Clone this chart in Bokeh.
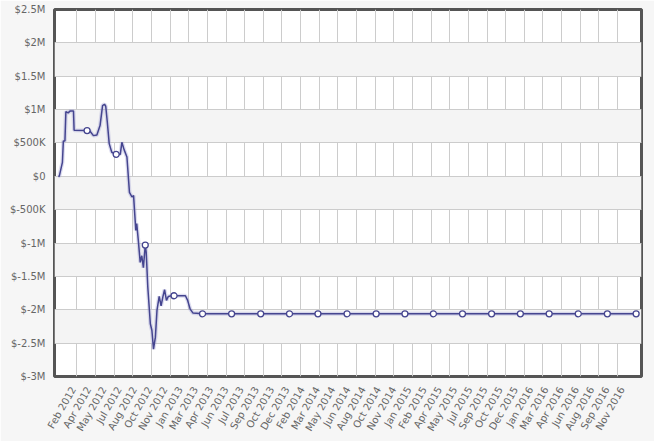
import numpy as np
import pandas as pd
from bokeh.plotting import figure
from bokeh.models import FixedTicker, Range1d
from bokeh.embed import file_html
from bokeh.resources import INLINE

# ---- data ----
line_dates = [
    "2011-12-15", "2011-12-18", "2011-12-28", "2011-12-31", "2012-01-05", "2012-01-08",
    "2012-01-15", "2012-01-22", "2012-02-01", "2012-02-03", "2012-03-15", "2012-03-22",
    "2012-04-04", "2012-04-15", "2012-04-25", "2012-05-03", "2012-05-09", "2012-05-13",
    "2012-05-18", "2012-05-24", "2012-06-01", "2012-06-15", "2012-06-28", "2012-07-03",
    "2012-07-10", "2012-07-19", "2012-07-27", "2012-08-04", "2012-08-09", "2012-08-12",
    "2012-08-16", "2012-08-19", "2012-08-24", "2012-08-30", "2012-09-04", "2012-09-09",
    "2012-09-15", "2012-09-18", "2012-09-23", "2012-10-01", "2012-10-06", "2012-10-11",
    "2012-10-17", "2012-10-22", "2012-10-29", "2012-11-04", "2012-11-10", "2012-11-15",
    "2012-11-21", "2012-11-27", "2012-12-06", "2012-12-15", "2013-01-20", "2013-01-27",
    "2013-02-04", "2013-02-13", "2013-03-15", "2013-06-15", "2013-09-15", "2013-12-15",
    "2014-03-15", "2014-06-15", "2014-09-15", "2014-12-15", "2015-03-15", "2015-06-15",
    "2015-09-15", "2015-12-15", "2016-03-15", "2016-06-15", "2016-09-15", "2016-12-15",
]
line_values = [
    0, 0, 210000, 530000, 530000, 970000,
    950000, 980000, 980000, 690000, 685000, 690000,
    610000, 620000, 760000, 1060000, 1080000, 1050000,
    810000, 490000, 360000, 330000, 330000, 510000,
    400000, 290000, -240000, -310000, -290000, -510000,
    -810000, -710000, -960000, -1290000, -1190000, -1370000,
    -1030000, -1140000, -1660000, -2210000, -2310000, -2590000,
    -2410000, -2010000, -1800000, -1940000, -1800000, -1700000,
    -1860000, -1800000, -1790000, -1790000, -1790000, -1860000,
    -1990000, -2050000, -2060000, -2060000, -2060000, -2060000,
    -2060000, -2060000, -2060000, -2060000, -2060000, -2060000,
    -2060000, -2060000, -2060000, -2060000, -2060000, -2060000,
]
marker_dates = [
    "2012-03-15", "2012-06-15", "2012-09-15", "2012-12-15", "2013-03-15", "2013-06-15",
    "2013-09-15", "2013-12-15", "2014-03-15", "2014-06-15", "2014-09-15", "2014-12-15",
    "2015-03-15", "2015-06-15", "2015-09-15", "2015-12-15", "2016-03-15", "2016-06-15",
    "2016-09-15", "2016-12-15",
]
marker_values = [
    685000, 330000, -1030000, -1790000, -2060000, -2060000,
    -2060000, -2060000, -2060000, -2060000, -2060000, -2060000,
    -2060000, -2060000, -2060000, -2060000, -2060000, -2060000,
    -2060000, -2060000,
]

x_labels = [
    "Feb 2012", "Apr 2012", "May 2012", "Jul 2012", "Aug 2012", "Oct 2012", "Nov 2012",
    "Jan 2013", "Mar 2013", "Apr 2013", "Jun 2013", "Jul 2013", "Sep 2013", "Oct 2013",
    "Dec 2013", "Feb 2014", "Mar 2014", "May 2014", "Jun 2014", "Aug 2014", "Oct 2014",
    "Nov 2014", "Jan 2015", "Feb 2015", "Apr 2015", "May 2015", "Jul 2015", "Sep 2015",
    "Oct 2015", "Dec 2015", "Jan 2016", "Mar 2016", "Apr 2016", "Jun 2016", "Aug 2016",
    "Sep 2016", "Nov 2016",
]
label_first = "2012-02-01"
label_last = "2016-11-01"
grid_count = 32

y_ticks = [-3000000, -2500000, -2000000, -1500000, -1000000, -500000, 0,
           500000, 1000000, 1500000, 2000000, 2500000]
y_labels = ["$-3M", "$-2.5M", "$-2M", "$-1.5M", "$-1M", "$-500K", "$0",
            "$500K", "$1M", "$1.5M", "$2M", "$2.5M"]

x_start = "2011-12-03"
x_end = "2017-01-01"


def ms(d):
    return int(pd.Timestamp(d).value // 10**6)


line_x = [pd.Timestamp(d) for d in line_dates]
marker_x = [pd.Timestamp(d) for d in marker_dates]

label_ticks = [int(round(v)) for v in np.linspace(ms(label_first), ms(label_last), len(x_labels))]
grid_all = np.linspace(ms(line_dates[0]), ms(line_dates[-1]), grid_count)
grid_ticks = [int(round(v)) for v in grid_all[1:-1]]

LINE = "#45458f"
FONT = "DejaVu Sans"

p = figure(
    width=654, height=441,
    x_axis_type="datetime",
    x_range=Range1d(ms(x_start), ms(x_end)),
    y_range=Range1d(-3000000, 2500000),
    output_backend="svg", toolbar_location=None,
    min_border_left=54, min_border_right=13, min_border_top=9, min_border_bottom=65,
    background_fill_color="white", border_fill_color="#f6f6f6",
    outline_line_color="#555555", outline_line_width=3,
)

for ax in (p.xaxis, p.yaxis):
    ax.axis_line_color = None
    ax.major_tick_line_color = None
    ax.minor_tick_line_color = None
    ax.major_label_text_font = FONT
    ax.major_label_text_font_size = "10px"
    ax.major_label_text_color = "#666666"

p.yaxis.ticker = FixedTicker(ticks=y_ticks)
p.yaxis.major_label_overrides = {t: l for t, l in zip(y_ticks, y_labels)}
p.yaxis.major_label_standoff = 3

p.xaxis.ticker = FixedTicker(ticks=label_ticks)
p.xaxis.major_label_overrides = {t: l for t, l in zip(label_ticks, x_labels)}
p.xaxis.major_label_orientation = np.pi / 3
p.xaxis.major_label_standoff = 5

p.xgrid.ticker = FixedTicker(ticks=grid_ticks)
p.ygrid.ticker = FixedTicker(ticks=y_ticks)
p.grid.grid_line_color = "#cccccc"
p.grid.grid_line_width = 1
p.ygrid.band_fill_color = "#f4f4f4"
p.ygrid.band_fill_alpha = 1.0

p.line(line_x, line_values, line_color="#9a9ad0", line_width=4, line_alpha=0.35)
p.line(line_x, line_values, line_color=LINE, line_width=1.5)
p.scatter(marker_x, marker_values, size=6, fill_color="white", line_color=LINE, line_width=1.3)

open("out.html", "w").write(file_html(p, INLINE))
